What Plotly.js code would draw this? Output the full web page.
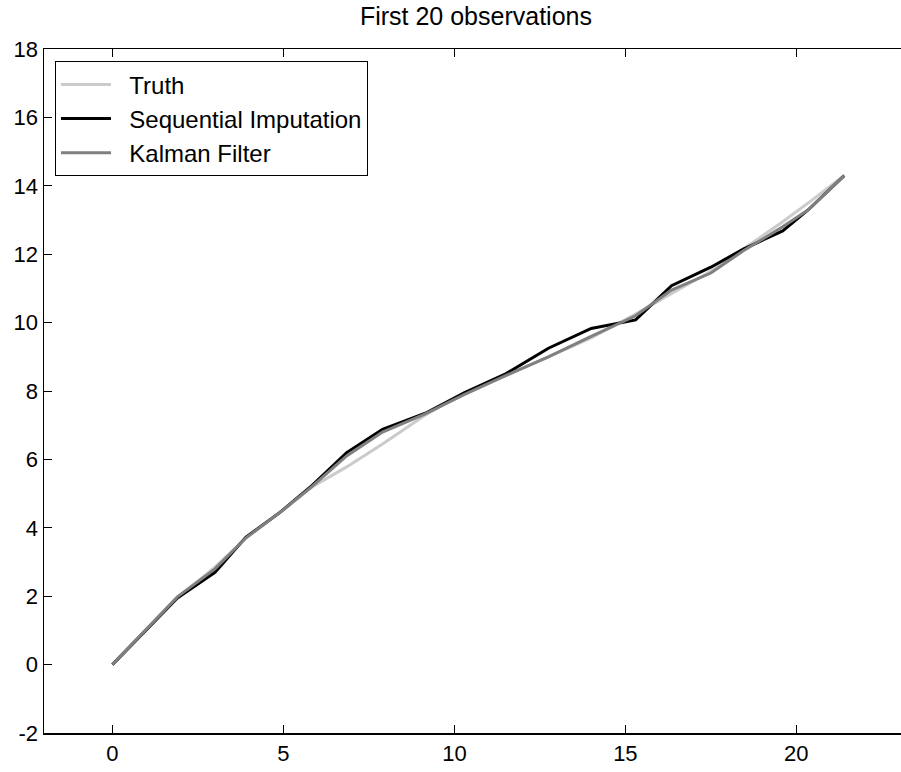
<!DOCTYPE html>
<html>
<head>
<meta charset="utf-8">
<script src="https://cdn.plot.ly/plotly-3.0.1.min.js"></script>
<style>
  html, body { margin: 0; padding: 0; background: #fff; }
  #chart { width: 901px; height: 772px; }
</style>
</head>
<body>
<div id="chart"></div>
<script>
// Time of each observation (start point plus the first 20 observations)
const obsTime = [0, 0.95, 1.9, 3.0, 3.9, 4.9, 5.85, 6.85, 7.9, 9.15, 10.3,
                 11.5, 12.75, 14.0, 15.3, 16.35, 17.5, 18.45, 19.6, 20.35, 21.4];

// True state
const truth = [0, 0.97, 1.95, 2.85, 3.7, 4.45, 5.2, 5.78, 6.45, 7.3, 7.95,
               8.45, 9.0, 9.55, 10.25, 10.85, 11.5, 12.15, 12.95, 13.5, 14.3];

// Estimate from sequential imputation
const seqImputation = [0, 0.98, 1.95, 2.7, 3.72, 4.45, 5.25, 6.2, 6.88, 7.35, 7.95,
                       8.5, 9.25, 9.83, 10.08, 11.08, 11.62, 12.15, 12.68, 13.3, 14.3];

// Estimate from the Kalman filter
const kalman = [0, 1.0, 1.98, 2.8, 3.7, 4.45, 5.22, 6.1, 6.8, 7.33, 7.9,
                8.45, 9.0, 9.6, 10.2, 10.95, 11.45, 12.1, 12.8, 13.3, 14.3];

// Legend labels (a little leading space separates them from the line samples)
const seriesNames = ['\u00a0\u00a0Truth', '\u00a0\u00a0Sequential Imputation', '\u00a0\u00a0Kalman Filter'];

const xTickVals = [0, 5, 10, 15, 20];
const xTickText = ['0', '5', '10', '15', '20'];
const yTickVals = [-2, 0, 2, 4, 6, 8, 10, 12, 14, 16, 18];
const yTickText = ['-2', '0', '2', '4', '6', '8', '10', '12', '14', '16', '18'];

const FONT = '"Liberation Sans", Arial, Helvetica, sans-serif';

const traces = [
  { x: obsTime, y: truth, name: seriesNames[0], mode: 'lines',
    line: { color: '#cbcbcb', width: 3 } },
  { x: obsTime, y: seqImputation, name: seriesNames[1], mode: 'lines',
    line: { color: '#000000', width: 3 } },
  { x: obsTime, y: kalman, name: seriesNames[2], mode: 'lines',
    line: { color: '#808080', width: 3 } }
];

const layout = {
  width: 901,
  height: 772,
  paper_bgcolor: '#ffffff',
  plot_bgcolor: '#ffffff',
  margin: { l: 44, r: 0, t: 49, b: 39 },
  font: { family: FONT, color: '#000000' },
  title: {
    text: 'First 20 observations',
    font: { family: FONT, size: 25, color: '#000000' },
    xref: 'paper', x: 0.504, xanchor: 'center',
    yref: 'container', y: 0.99, yanchor: 'top'
  },
  xaxis: {
    range: [-2, 23.06],
    tickvals: xTickVals,
    ticktext: xTickText,
    ticks: 'inside',
    ticklen: 8,
    tickwidth: 1,
    tickcolor: '#000000',
    showline: true,
    linecolor: '#000000',
    linewidth: 1.5,
    mirror: 'ticks',
    showgrid: false,
    zeroline: false,
    tickfont: { family: FONT, size: 22, color: '#000000' }
  },
  yaxis: {
    range: [-2, 18],
    tickvals: yTickVals,
    ticktext: yTickText,
    ticks: 'inside',
    ticklen: 8,
    tickwidth: 1,
    tickcolor: '#000000',
    showline: true,
    linecolor: '#000000',
    linewidth: 1.5,
    mirror: false,
    showgrid: false,
    zeroline: false,
    tickfont: { family: FONT, size: 22, color: '#000000' }
  },
  legend: {
    x: 0.0128, y: 0.982,
    xanchor: 'left', yanchor: 'top',
    bgcolor: '#ffffff',
    bordercolor: '#000000',
    borderwidth: 1,
    font: { family: FONT, size: 24, color: '#000000' },
    itemwidth: 50,
    tracegroupgap: 0
  },
  showlegend: true
};

Plotly.newPlot('chart', traces, layout, { displayModeBar: false, staticPlot: true });
</script>
</body>
</html>
